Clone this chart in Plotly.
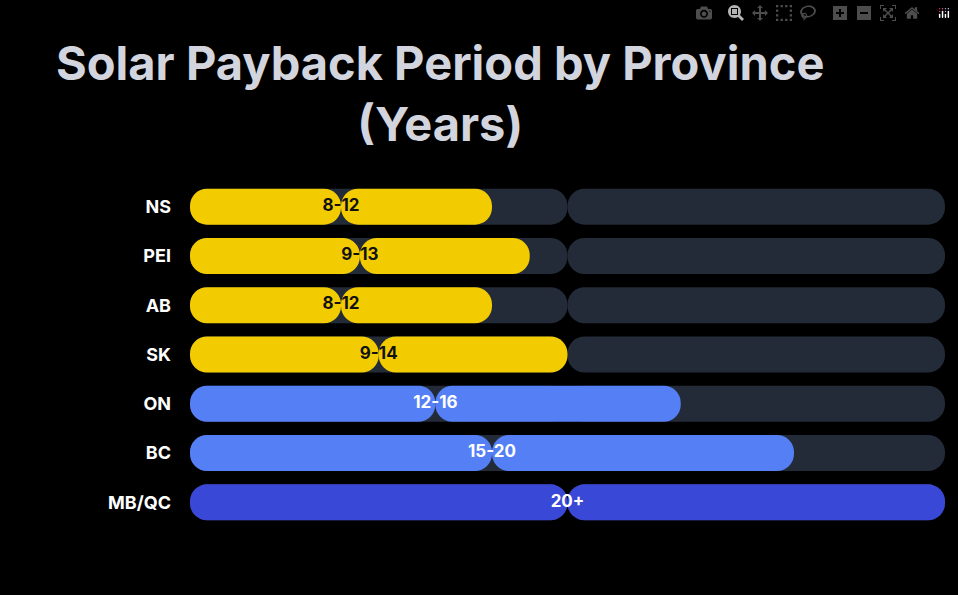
import plotly.graph_objects as go

provinces = ["NS", "PEI", "AB", "SK", "ON", "BC", "MB/QC"]
values = [8, 9, 8, 10, 13, 16, 20]
labels = ["8-12", "9-13", "8-12", "9-14", "12-16", "15-20", "20+"]
colors = ["#f2cc00", "#f2cc00", "#f2cc00", "#f2cc00", "#5580f5", "#5580f5", "#3a48d8"]
text_colors = ["#111111"] * 4 + ["#ffffff"] * 3
max_val = 20

fig = go.Figure()
n = len(provinces)
# track, drawn as two halves so both ends are rounded
for sign in (-1, 1):
    fig.add_trace(go.Bar(y=provinces, x=[sign * max_val / 2] * n, base=[max_val / 2] * n,
                         orientation="h", marker=dict(color="#232a38", line=dict(width=0)),
                         hoverinfo="skip", showlegend=False))
for sign in (-1, 1):
    fig.add_trace(go.Bar(y=provinces, x=[sign * v / 2 for v in values], base=[v / 2 for v in values],
                         orientation="h", marker=dict(color=colors, line=dict(width=0)),
                         hoverinfo="skip", showlegend=False))
fig.add_trace(go.Scatter(y=provinces, x=[v / 2 for v in values], mode="text", text=labels,
                         textposition="middle center",
                         textfont=dict(family="Inter", size=17, color=text_colors, weight="bold"),
                         hoverinfo="skip", showlegend=False))
fig.update_layout(
    width=958, height=595, barmode="overlay", bargap=0.27, barcornerradius="50%",
    paper_bgcolor="#000000", plot_bgcolor="#000000",
    margin=dict(l=190, r=13, t=182, b=68),
    annotations=[dict(text="<b>Solar Payback Period by Province<br>(Years)</b>",
                      xref="paper", yref="paper", x=0.331, y=1, xanchor="center", yanchor="bottom",
                      yshift=28, showarrow=False, align="center",
                      font=dict(family="Inter", size=47, color="#d2d4de"))],
    xaxis=dict(range=[0, max_val], visible=False, fixedrange=True),
    yaxis=dict(autorange="reversed", showgrid=False, ticks="", ticklabelstandoff=18,
               tickfont=dict(family="Inter", size=18, color="#ffffff", weight="bold")),
)
fig.write_html("out.html",
               post_script="document.body.style.margin='0';document.body.style.background='#000';")
